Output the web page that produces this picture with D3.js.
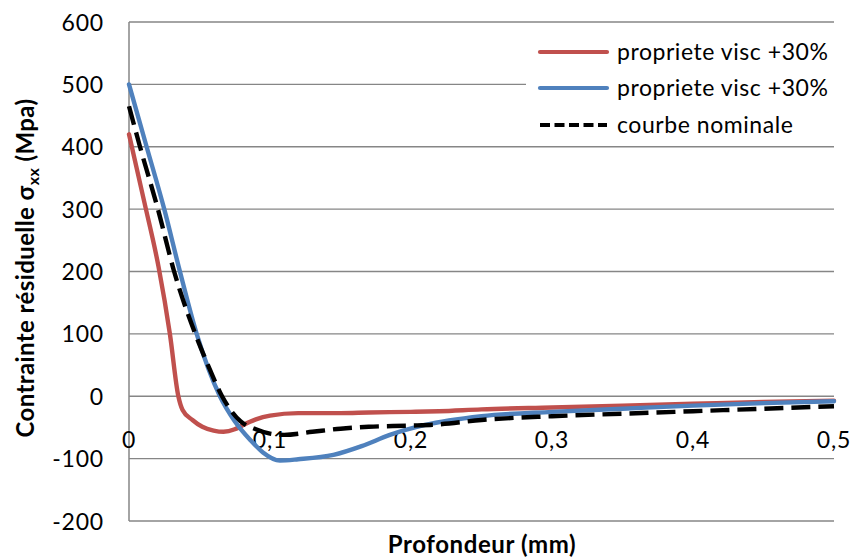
<!DOCTYPE html>
<html><head><meta charset="utf-8">
<script src="https://cdn.jsdelivr.net/npm/d3@7"></script>
<style>body{margin:0;background:#fff}svg{display:block}text{font-family:Lato,"Open Sans",sans-serif}</style>
</head><body><svg id="c" width="853" height="558"></svg>
<script>
const seriesNames = ["propriete visc +30%", "propriete visc +30%", "courbe nominale"];
const seriesColors = ["#C0504D", "#4F81BD", "#000000"];
const redX = [0,0.011,0.021,0.029,0.035,0.038,0.045,0.052,0.06,0.067,0.075,0.081,0.09,0.1,0.12,0.15,0.17,0.2,0.22,0.25,0.3,0.35,0.4,0.45,0.5];
const redY = [420,310,207,100,0,-22,-38,-49,-55,-57,-53,-46,-37,-31,-27,-27,-26,-25,-24,-21,-18,-15,-12,-9,-7];
const blueX = [0,0.0125,0.025,0.036,0.048,0.0645,0.075,0.086,0.095,0.107,0.12,0.145,0.165,0.185,0.21,0.25,0.3,0.35,0.4,0.45,0.5];
const blueY = [500,400,300,201,100,0,-40,-70,-90,-103,-101,-94,-80,-62,-46,-32,-25,-20,-15,-11,-8];
const blackX = [0,0.0078,0.0205,0.032,0.047,0.056,0.066,0.072,0.079,0.09,0.1,0.11,0.13,0.15,0.17,0.2,0.22,0.25,0.3,0.35,0.4,0.45,0.5];
const blackY = [465,400,300,200,100,50,0,-22,-40,-53,-60,-62,-57,-52,-49,-47,-45,-38,-32,-28,-24,-20,-16];
const yTicks = [-200,-100,0,100,200,300,400,500,600];
const xTicks = [0,0.1,0.2,0.3,0.4,0.5];

const svg = d3.select("#c");
const x = d3.scaleLinear().domain([0,0.5]).range([129,834]);
const y = d3.scaleLinear().domain([-200,600]).range([521,22]);
const gray = "#868686";

svg.append("g").selectAll("line").data(yTicks).join("line")
  .attr("x1",x(0)).attr("x2",x(0.5)).attr("y1",d=>y(d)).attr("y2",d=>y(d))
  .attr("stroke",gray).attr("stroke-width",1.3);
svg.append("line").attr("x1",x(0)).attr("x2",x(0)).attr("y1",y(600)).attr("y2",y(-200))
  .attr("stroke",gray).attr("stroke-width",1.5);

svg.append("g").selectAll("text").data(yTicks).join("text")
  .attr("x",104).attr("y",d=>y(d)+8.5).attr("text-anchor","end")
  .attr("font-size",23).attr("letter-spacing",0.8).attr("fill","#000").text(d=>d);
svg.append("g").selectAll("text").data(xTicks).join("text")
  .attr("x",d=>x(d)).attr("y",448).attr("text-anchor","middle")
  .attr("font-size",23).attr("letter-spacing",0.8).attr("fill","#000").text(d=>d===0?"0":String(d).replace(".",","));

const series = [
  {x:redX,y:redY,c:seriesColors[0],dash:null},
  {x:blueX,y:blueY,c:seriesColors[1],dash:null},
  {x:blackX,y:blackY,c:seriesColors[2],dash:"19,8"}
];
const line = d3.line().x(d=>x(d[0])).y(d=>y(d[1])).curve(d3.curveMonotoneX);
series.forEach(s=>{
  const pts = s.x.map((v,i)=>[v,s.y[i]]);
  const p = svg.append("path").attr("d",line(pts)).attr("fill","none")
    .attr("stroke",s.c).attr("stroke-width",4.4).attr("stroke-linejoin","round");
  if(s.dash) p.attr("stroke-dasharray",s.dash).attr("stroke-linecap","butt");
  else p.attr("stroke-linecap","round");
});

const lg = svg.append("g");
lg.append("rect").attr("x",526).attr("y",31).attr("width",312).attr("height",110).attr("fill","#fff");
const ly = [52,88,125];
seriesNames.forEach((n,i)=>{
  const l = lg.append("line").attr("x1",540).attr("x2",607).attr("y1",ly[i]).attr("y2",ly[i])
    .attr("stroke",seriesColors[i]).attr("stroke-width",4.2);
  if(i===2) l.attr("stroke-dasharray","10,4.5");
  else l.attr("stroke-linecap","round");
  lg.append("text").attr("x",617).attr("y",ly[i]+8).attr("font-size",23).attr("letter-spacing",0.55)
    .attr("fill","#000").text(n);
});

svg.append("text").attr("x",482).attr("y",553).attr("text-anchor","middle")
  .attr("font-size",24).attr("letter-spacing",0.6).attr("font-weight","bold").text("Profondeur (mm)");
const yt = svg.append("text").attr("transform","translate(34,268) rotate(-90)")
  .attr("text-anchor","middle").attr("font-size",24).attr("letter-spacing",0.4).attr("font-weight","bold");
yt.append("tspan").text("Contrainte résiduelle σ");
yt.append("tspan").attr("font-size",16).attr("dy",5).text("xx");
yt.append("tspan").attr("dy",-5).text("  (Mpa)");
</script></body></html>
